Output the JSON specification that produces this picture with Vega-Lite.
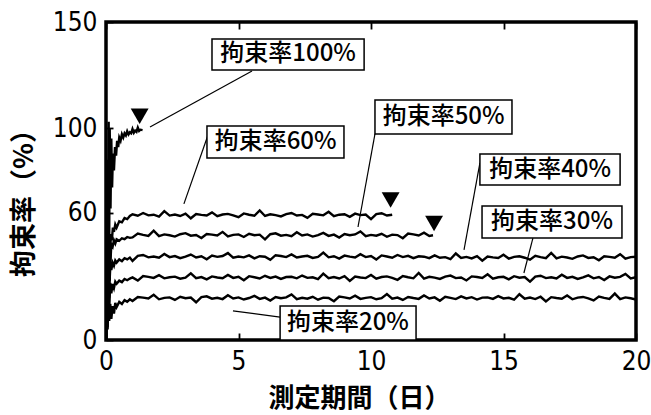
{
"$schema":"https://vega.github.io/schema/vega-lite/v6.json",
"width":530,"height":318,
"autosize":{"type":"none"},
"padding":{"left":106,"top":22,"right":15,"bottom":75},
"background":"white",
"config":{
"view":{"stroke":"black","strokeWidth":3.5},
"axis":{"domain":false,"grid":false,"tickColor":"black","labelColor":"black","titleColor":"black","labelFont":"Liberation Sans Narrow, DejaVu Sans Condensed, Liberation Sans","labelFontSize":26,"tickWidth":1.8,"tickSize":-7,"labelFlush":false,"labelOverlap":false}
},
"resolve":{"axis":{"x":"independent"}},
"layer":[
{
"data":{"values":[
{"s":"100","x":0,"y":0},{"s":"100","x":0.02,"y":50},{"s":"100","x":0.04,"y":10},{"s":"100","x":0.06,"y":85},{"s":"100","x":0.08,"y":25},{"s":"100","x":0.1,"y":103},{"s":"100","x":0.12,"y":45},{"s":"100","x":0.14,"y":100},{"s":"100","x":0.17,"y":62},{"s":"100","x":0.2,"y":95},{"s":"100","x":0.23,"y":72},{"s":"100","x":0.26,"y":88},{"s":"100","x":0.3,"y":80},{"s":"100","x":0.34,"y":91},{"s":"100","x":0.38,"y":87},{"s":"100","x":0.42,"y":94},{"s":"100","x":0.46,"y":91},{"s":"100","x":0.5,"y":95.5},{"s":"100","x":0.55,"y":94},{"s":"100","x":0.6,"y":97},{"s":"100","x":0.65,"y":95.5},{"s":"100","x":0.7,"y":97.5},{"s":"100","x":0.75,"y":96.5},{"s":"100","x":0.8,"y":98.5},{"s":"100","x":0.85,"y":97},{"s":"100","x":0.9,"y":98},{"s":"100","x":0.95,"y":97.5},{"s":"100","x":1.0,"y":99.5},{"s":"100","x":1.05,"y":97.8},{"s":"100","x":1.1,"y":98.8},{"s":"100","x":1.15,"y":98.2},{"s":"100","x":1.2,"y":100.2},{"s":"100","x":1.25,"y":98.6},{"s":"100","x":1.3,"y":99.2},{"s":"100","x":1.38,"y":99.0},

{"s":"60","x":0,"y":0},{"s":"60","x":0.03,"y":38},{"s":"60","x":0.06,"y":10},{"s":"60","x":0.1,"y":52},{"s":"60","x":0.14,"y":28},{"s":"60","x":0.18,"y":50},{"s":"60","x":0.22,"y":47},{"s":"60","x":0.26,"y":53},{"s":"60","x":0.3,"y":51},{"s":"60","x":0.35,"y":54.5},{"s":"60","x":0.4,"y":53},{"s":"60","x":0.5,"y":56},{"s":"60","x":0.6,"y":55.5},{"s":"60","x":0.7,"y":57.5},{"s":"60","x":0.8,"y":57},{"s":"60","x":0.9,"y":58.5},
{"s":"60","x":1.0,"y":59.3},{"s":"60","x":1.2,"y":58.6},{"s":"60","x":1.4,"y":59.9},{"s":"60","x":1.6,"y":58.8},{"s":"60","x":1.8,"y":59.1},{"s":"60","x":2.0,"y":58.2},{"s":"60","x":2.2,"y":60.8},{"s":"60","x":2.4,"y":58.7},{"s":"60","x":2.6,"y":59.2},{"s":"60","x":2.8,"y":58.5},{"s":"60","x":3.0,"y":59.6},{"s":"60","x":3.2,"y":57.4},{"s":"60","x":3.4,"y":59.4},{"s":"60","x":3.6,"y":59.0},{"s":"60","x":3.8,"y":58.7},{"s":"60","x":4.0,"y":60.2},{"s":"60","x":4.2,"y":58.4},{"s":"60","x":4.4,"y":59.2},{"s":"60","x":4.6,"y":59.5},{"s":"60","x":4.8,"y":58.8},{"s":"60","x":5.0,"y":57.9},{"s":"60","x":5.2,"y":59.7},{"s":"60","x":5.4,"y":59.1},{"s":"60","x":5.6,"y":58.6},{"s":"60","x":5.8,"y":61.1},{"s":"60","x":6.0,"y":58.5},{"s":"60","x":6.2,"y":59.3},{"s":"60","x":6.4,"y":58.9},{"s":"60","x":6.6,"y":58.3},{"s":"60","x":6.8,"y":59.4},{"s":"60","x":7.0,"y":59.9},{"s":"60","x":7.2,"y":58.7},{"s":"60","x":7.4,"y":59.0},{"s":"60","x":7.6,"y":57.6},{"s":"60","x":7.8,"y":59.5},{"s":"60","x":8.0,"y":59.2},{"s":"60","x":8.2,"y":58.8},{"s":"60","x":8.4,"y":60.5},{"s":"60","x":8.6,"y":58.4},{"s":"60","x":8.8,"y":59.1},{"s":"60","x":9.0,"y":59.3},{"s":"60","x":9.2,"y":58.1},{"s":"60","x":9.4,"y":59.6},{"s":"60","x":9.6,"y":58.9},{"s":"60","x":9.8,"y":59.2},{"s":"60","x":10.0,"y":57.0},{"s":"60","x":10.2,"y":59.4},{"s":"60","x":10.4,"y":59.8},{"s":"60","x":10.6,"y":58.7},{"s":"60","x":10.8,"y":59.1},

{"s":"50","x":0,"y":0},{"s":"50","x":0.03,"y":30},{"s":"50","x":0.06,"y":46},{"s":"50","x":0.09,"y":18},{"s":"50","x":0.12,"y":47},{"s":"50","x":0.16,"y":35},{"s":"50","x":0.2,"y":45},{"s":"50","x":0.25,"y":44},{"s":"50","x":0.3,"y":47},{"s":"50","x":0.35,"y":45.5},{"s":"50","x":0.4,"y":47.5},{"s":"50","x":0.5,"y":46.8},{"s":"50","x":0.6,"y":48},{"s":"50","x":0.7,"y":47.6},{"s":"50","x":0.8,"y":48.6},{"s":"50","x":0.9,"y":48.2},
{"s":"50","x":1.0,"y":48.4},{"s":"50","x":1.2,"y":50.2},{"s":"50","x":1.4,"y":49.6},{"s":"50","x":1.6,"y":49.1},{"s":"50","x":1.8,"y":51.6},{"s":"50","x":2.0,"y":49.0},{"s":"50","x":2.2,"y":49.8},{"s":"50","x":2.4,"y":49.4},{"s":"50","x":2.6,"y":48.8},{"s":"50","x":2.8,"y":49.9},{"s":"50","x":3.0,"y":50.4},{"s":"50","x":3.2,"y":49.2},{"s":"50","x":3.4,"y":49.5},{"s":"50","x":3.6,"y":48.1},{"s":"50","x":3.8,"y":50.0},{"s":"50","x":4.0,"y":49.7},{"s":"50","x":4.2,"y":49.3},{"s":"50","x":4.4,"y":51.0},{"s":"50","x":4.6,"y":48.9},{"s":"50","x":4.8,"y":49.6},{"s":"50","x":5.0,"y":49.8},{"s":"50","x":5.2,"y":48.6},{"s":"50","x":5.4,"y":50.1},{"s":"50","x":5.6,"y":49.4},{"s":"50","x":5.8,"y":49.7},{"s":"50","x":6.0,"y":47.5},{"s":"50","x":6.2,"y":49.9},{"s":"50","x":6.4,"y":50.3},{"s":"50","x":6.6,"y":49.2},{"s":"50","x":6.8,"y":49.6},{"s":"50","x":7.0,"y":49.0},{"s":"50","x":7.2,"y":50.8},{"s":"50","x":7.4,"y":49.3},{"s":"50","x":7.6,"y":49.8},{"s":"50","x":7.8,"y":48.8},{"s":"50","x":8.0,"y":49.5},{"s":"50","x":8.2,"y":50.5},{"s":"50","x":8.4,"y":49.1},{"s":"50","x":8.6,"y":49.7},{"s":"50","x":8.8,"y":48.3},{"s":"50","x":9.0,"y":50.0},{"s":"50","x":9.2,"y":49.4},{"s":"50","x":9.4,"y":49.8},{"s":"50","x":9.6,"y":51.2},{"s":"50","x":9.8,"y":49.0},{"s":"50","x":10.0,"y":49.6},{"s":"50","x":10.2,"y":49.2},{"s":"50","x":10.4,"y":50.1},{"s":"50","x":10.6,"y":48.7},{"s":"50","x":10.8,"y":49.7},{"s":"50","x":11.0,"y":49.5},{"s":"50","x":11.2,"y":48.0},{"s":"50","x":11.4,"y":50.2},{"s":"50","x":11.6,"y":49.8},{"s":"50","x":11.8,"y":49.3},{"s":"50","x":12.0,"y":50.6},{"s":"50","x":12.2,"y":49.1},{"s":"50","x":12.34,"y":49.4},

{"s":"40","x":0,"y":0},{"s":"40","x":0.03,"y":25},{"s":"40","x":0.06,"y":8},{"s":"40","x":0.09,"y":38},{"s":"40","x":0.12,"y":20},{"s":"40","x":0.16,"y":37},{"s":"40","x":0.2,"y":33},{"s":"40","x":0.25,"y":36.5},{"s":"40","x":0.3,"y":35},{"s":"40","x":0.35,"y":37.5},{"s":"40","x":0.4,"y":36.5},{"s":"40","x":0.5,"y":38},{"s":"40","x":0.6,"y":37.2},{"s":"40","x":0.7,"y":38.6},{"s":"40","x":0.8,"y":38},{"s":"40","x":0.9,"y":38.9},
{"s":"40","x":1.0,"y":37.3},{"s":"40","x":1.2,"y":39.7},{"s":"40","x":1.4,"y":40.1},{"s":"40","x":1.6,"y":39.0},{"s":"40","x":1.8,"y":39.4},{"s":"40","x":2.0,"y":38.8},{"s":"40","x":2.2,"y":40.6},{"s":"40","x":2.4,"y":39.1},{"s":"40","x":2.6,"y":39.6},{"s":"40","x":2.8,"y":38.6},{"s":"40","x":3.0,"y":39.3},{"s":"40","x":3.2,"y":40.3},{"s":"40","x":3.4,"y":38.9},{"s":"40","x":3.6,"y":39.5},{"s":"40","x":3.8,"y":38.1},{"s":"40","x":4.0,"y":39.8},{"s":"40","x":4.2,"y":39.2},{"s":"40","x":4.4,"y":39.6},{"s":"40","x":4.6,"y":41.0},{"s":"40","x":4.8,"y":38.8},{"s":"40","x":5.0,"y":39.4},{"s":"40","x":5.2,"y":39.0},{"s":"40","x":5.4,"y":39.9},{"s":"40","x":5.6,"y":38.5},{"s":"40","x":5.8,"y":39.5},{"s":"40","x":6.0,"y":39.3},{"s":"40","x":6.2,"y":37.8},{"s":"40","x":6.4,"y":40.0},{"s":"40","x":6.6,"y":39.6},{"s":"40","x":6.8,"y":39.1},{"s":"40","x":7.0,"y":40.4},{"s":"40","x":7.2,"y":38.9},{"s":"40","x":7.4,"y":39.4},{"s":"40","x":7.6,"y":39.7},{"s":"40","x":7.8,"y":38.7},{"s":"40","x":8.0,"y":39.2},{"s":"40","x":8.2,"y":41.2},{"s":"40","x":8.4,"y":39.0},{"s":"40","x":8.6,"y":39.5},{"s":"40","x":8.8,"y":38.4},{"s":"40","x":9.0,"y":39.8},{"s":"40","x":9.2,"y":39.3},{"s":"40","x":9.4,"y":38.9},{"s":"40","x":9.6,"y":40.5},{"s":"40","x":9.8,"y":39.1},{"s":"40","x":10.0,"y":39.6},{"s":"40","x":10.2,"y":38.0},{"s":"40","x":10.4,"y":39.9},{"s":"40","x":10.6,"y":39.4},{"s":"40","x":10.8,"y":38.8},{"s":"40","x":11.0,"y":40.1},{"s":"40","x":11.2,"y":39.1},{"s":"40","x":11.4,"y":39.7},{"s":"40","x":11.6,"y":38.6},{"s":"40","x":11.8,"y":39.5},{"s":"40","x":12.0,"y":39.3},{"s":"40","x":12.2,"y":38.6},{"s":"40","x":12.4,"y":39.9},{"s":"40","x":12.6,"y":38.8},{"s":"40","x":12.8,"y":39.1},{"s":"40","x":13.0,"y":38.2},{"s":"40","x":13.2,"y":40.8},{"s":"40","x":13.4,"y":38.7},{"s":"40","x":13.6,"y":39.2},{"s":"40","x":13.8,"y":38.5},{"s":"40","x":14.0,"y":39.6},{"s":"40","x":14.2,"y":37.4},{"s":"40","x":14.4,"y":39.4},{"s":"40","x":14.6,"y":39.0},{"s":"40","x":14.8,"y":38.7},{"s":"40","x":15.0,"y":40.2},{"s":"40","x":15.2,"y":38.4},{"s":"40","x":15.4,"y":39.2},{"s":"40","x":15.6,"y":39.5},{"s":"40","x":15.8,"y":38.8},{"s":"40","x":16.0,"y":37.9},{"s":"40","x":16.2,"y":39.7},{"s":"40","x":16.4,"y":39.1},{"s":"40","x":16.6,"y":38.6},{"s":"40","x":16.8,"y":41.1},{"s":"40","x":17.0,"y":38.5},{"s":"40","x":17.2,"y":39.3},{"s":"40","x":17.4,"y":38.9},{"s":"40","x":17.6,"y":38.3},{"s":"40","x":17.8,"y":39.4},{"s":"40","x":18.0,"y":39.9},{"s":"40","x":18.2,"y":38.7},{"s":"40","x":18.4,"y":39.0},{"s":"40","x":18.6,"y":37.6},{"s":"40","x":18.8,"y":39.5},{"s":"40","x":19.0,"y":39.2},{"s":"40","x":19.2,"y":38.8},{"s":"40","x":19.4,"y":40.5},{"s":"40","x":19.6,"y":38.4},{"s":"40","x":19.8,"y":39.1},{"s":"40","x":20.0,"y":39.3},

{"s":"30","x":0,"y":0},{"s":"30","x":0.03,"y":20},{"s":"30","x":0.06,"y":6},{"s":"30","x":0.09,"y":28},{"s":"30","x":0.12,"y":14},{"s":"30","x":0.16,"y":27},{"s":"30","x":0.2,"y":22},{"s":"30","x":0.25,"y":26.5},{"s":"30","x":0.3,"y":24.5},{"s":"30","x":0.35,"y":27.5},{"s":"30","x":0.4,"y":26.5},{"s":"30","x":0.5,"y":28},{"s":"30","x":0.6,"y":27.3},{"s":"30","x":0.7,"y":28.8},{"s":"30","x":0.8,"y":28.2},{"s":"30","x":0.9,"y":29},
{"s":"30","x":1.0,"y":29.5},{"s":"30","x":1.2,"y":28.0},{"s":"30","x":1.4,"y":30.2},{"s":"30","x":1.6,"y":29.8},{"s":"30","x":1.8,"y":29.3},{"s":"30","x":2.0,"y":30.6},{"s":"30","x":2.2,"y":29.1},{"s":"30","x":2.4,"y":29.6},{"s":"30","x":2.6,"y":29.9},{"s":"30","x":2.8,"y":28.9},{"s":"30","x":3.0,"y":29.4},{"s":"30","x":3.2,"y":31.4},{"s":"30","x":3.4,"y":29.2},{"s":"30","x":3.6,"y":29.7},{"s":"30","x":3.8,"y":28.6},{"s":"30","x":4.0,"y":30.0},{"s":"30","x":4.2,"y":29.5},{"s":"30","x":4.4,"y":29.1},{"s":"30","x":4.6,"y":30.7},{"s":"30","x":4.8,"y":29.3},{"s":"30","x":5.0,"y":29.8},{"s":"30","x":5.2,"y":28.2},{"s":"30","x":5.4,"y":30.1},{"s":"30","x":5.6,"y":29.6},{"s":"30","x":5.8,"y":29.0},{"s":"30","x":6.0,"y":30.3},{"s":"30","x":6.2,"y":29.3},{"s":"30","x":6.4,"y":29.9},{"s":"30","x":6.6,"y":28.8},{"s":"30","x":6.8,"y":29.7},{"s":"30","x":7.0,"y":29.8},{"s":"30","x":7.2,"y":29.1},{"s":"30","x":7.4,"y":30.4},{"s":"30","x":7.6,"y":29.3},{"s":"30","x":7.8,"y":29.6},{"s":"30","x":8.0,"y":28.7},{"s":"30","x":8.2,"y":31.3},{"s":"30","x":8.4,"y":29.2},{"s":"30","x":8.6,"y":29.7},{"s":"30","x":8.8,"y":29.0},{"s":"30","x":9.0,"y":30.1},{"s":"30","x":9.2,"y":27.9},{"s":"30","x":9.4,"y":29.9},{"s":"30","x":9.6,"y":29.5},{"s":"30","x":9.8,"y":29.2},{"s":"30","x":10.0,"y":30.7},{"s":"30","x":10.2,"y":28.9},{"s":"30","x":10.4,"y":29.7},{"s":"30","x":10.6,"y":30.0},{"s":"30","x":10.8,"y":29.3},{"s":"30","x":11.0,"y":28.4},{"s":"30","x":11.2,"y":30.2},{"s":"30","x":11.4,"y":29.6},{"s":"30","x":11.6,"y":29.1},{"s":"30","x":11.8,"y":31.6},{"s":"30","x":12.0,"y":29.0},{"s":"30","x":12.2,"y":29.8},{"s":"30","x":12.4,"y":29.4},{"s":"30","x":12.6,"y":28.8},{"s":"30","x":12.8,"y":29.9},{"s":"30","x":13.0,"y":30.4},{"s":"30","x":13.2,"y":29.2},{"s":"30","x":13.4,"y":29.5},{"s":"30","x":13.6,"y":28.1},{"s":"30","x":13.8,"y":30.0},{"s":"30","x":14.0,"y":29.7},{"s":"30","x":14.2,"y":29.3},{"s":"30","x":14.4,"y":31.0},{"s":"30","x":14.6,"y":28.9},{"s":"30","x":14.8,"y":29.6},{"s":"30","x":15.0,"y":29.8},{"s":"30","x":15.2,"y":28.6},{"s":"30","x":15.4,"y":30.1},{"s":"30","x":15.6,"y":29.4},{"s":"30","x":15.8,"y":29.7},{"s":"30","x":16.0,"y":27.5},{"s":"30","x":16.2,"y":29.9},{"s":"30","x":16.4,"y":30.3},{"s":"30","x":16.6,"y":29.2},{"s":"30","x":16.8,"y":29.6},{"s":"30","x":17.0,"y":29.0},{"s":"30","x":17.2,"y":30.8},{"s":"30","x":17.4,"y":29.3},{"s":"30","x":17.6,"y":29.8},{"s":"30","x":17.8,"y":28.8},{"s":"30","x":18.0,"y":29.5},{"s":"30","x":18.2,"y":30.5},{"s":"30","x":18.4,"y":29.1},{"s":"30","x":18.6,"y":29.7},{"s":"30","x":18.8,"y":28.3},{"s":"30","x":19.0,"y":30.0},{"s":"30","x":19.2,"y":29.4},{"s":"30","x":19.4,"y":29.8},{"s":"30","x":19.6,"y":31.2},{"s":"30","x":19.8,"y":29.0},{"s":"30","x":20.0,"y":29.6},

{"s":"20","x":0,"y":0},{"s":"20","x":0.03,"y":15},{"s":"20","x":0.06,"y":5},{"s":"20","x":0.09,"y":20},{"s":"20","x":0.12,"y":9},{"s":"20","x":0.16,"y":17},{"s":"20","x":0.2,"y":10},{"s":"20","x":0.25,"y":16},{"s":"20","x":0.3,"y":12.5},{"s":"20","x":0.35,"y":17.5},{"s":"20","x":0.4,"y":15.5},{"s":"20","x":0.5,"y":18},{"s":"20","x":0.6,"y":17},{"s":"20","x":0.7,"y":18.8},{"s":"20","x":0.8,"y":18},{"s":"20","x":0.9,"y":19.2},
{"s":"20","x":1.0,"y":18.4},{"s":"20","x":1.2,"y":20.3},{"s":"20","x":1.4,"y":20.0},{"s":"20","x":1.6,"y":19.6},{"s":"20","x":1.8,"y":21.3},{"s":"20","x":2.0,"y":19.2},{"s":"20","x":2.2,"y":19.9},{"s":"20","x":2.4,"y":20.1},{"s":"20","x":2.6,"y":18.9},{"s":"20","x":2.8,"y":20.4},{"s":"20","x":3.0,"y":19.7},{"s":"20","x":3.2,"y":20.0},{"s":"20","x":3.4,"y":17.8},{"s":"20","x":3.6,"y":20.2},{"s":"20","x":3.8,"y":20.6},{"s":"20","x":4.0,"y":19.5},{"s":"20","x":4.2,"y":19.9},{"s":"20","x":4.4,"y":19.3},{"s":"20","x":4.6,"y":21.1},{"s":"20","x":4.8,"y":19.6},{"s":"20","x":5.0,"y":20.1},{"s":"20","x":5.2,"y":19.1},{"s":"20","x":5.4,"y":19.8},{"s":"20","x":5.6,"y":20.8},{"s":"20","x":5.8,"y":19.4},{"s":"20","x":6.0,"y":20.0},{"s":"20","x":6.2,"y":18.6},{"s":"20","x":6.4,"y":20.3},{"s":"20","x":6.6,"y":19.7},{"s":"20","x":6.8,"y":20.1},{"s":"20","x":7.0,"y":21.5},{"s":"20","x":7.2,"y":19.3},{"s":"20","x":7.4,"y":19.9},{"s":"20","x":7.6,"y":19.5},{"s":"20","x":7.8,"y":20.4},{"s":"20","x":8.0,"y":19.0},{"s":"20","x":8.2,"y":20.0},{"s":"20","x":8.4,"y":19.8},{"s":"20","x":8.6,"y":18.3},{"s":"20","x":8.8,"y":20.5},{"s":"20","x":9.0,"y":20.1},{"s":"20","x":9.2,"y":19.6},{"s":"20","x":9.4,"y":20.9},{"s":"20","x":9.6,"y":19.4},{"s":"20","x":9.8,"y":19.9},{"s":"20","x":10.0,"y":20.2},{"s":"20","x":10.2,"y":19.2},{"s":"20","x":10.4,"y":19.7},{"s":"20","x":10.6,"y":21.7},{"s":"20","x":10.8,"y":19.5},{"s":"20","x":11.0,"y":20.0},{"s":"20","x":11.2,"y":18.9},{"s":"20","x":11.4,"y":20.3},{"s":"20","x":11.6,"y":19.8},{"s":"20","x":11.8,"y":19.4},{"s":"20","x":12.0,"y":21.0},{"s":"20","x":12.2,"y":19.6},{"s":"20","x":12.4,"y":20.1},{"s":"20","x":12.6,"y":18.5},{"s":"20","x":12.8,"y":20.4},{"s":"20","x":13.0,"y":19.9},{"s":"20","x":13.2,"y":19.3},{"s":"20","x":13.4,"y":20.6},{"s":"20","x":13.6,"y":19.6},{"s":"20","x":13.8,"y":20.2},{"s":"20","x":14.0,"y":19.1},{"s":"20","x":14.2,"y":20.0},{"s":"20","x":14.4,"y":20.1},{"s":"20","x":14.6,"y":19.4},{"s":"20","x":14.8,"y":20.7},{"s":"20","x":15.0,"y":19.6},{"s":"20","x":15.2,"y":19.9},{"s":"20","x":15.4,"y":19.0},{"s":"20","x":15.6,"y":21.6},{"s":"20","x":15.8,"y":19.5},{"s":"20","x":16.0,"y":20.0},{"s":"20","x":16.2,"y":19.3},{"s":"20","x":16.4,"y":20.4},{"s":"20","x":16.6,"y":18.2},{"s":"20","x":16.8,"y":20.2},{"s":"20","x":17.0,"y":19.8},{"s":"20","x":17.2,"y":19.5},{"s":"20","x":17.4,"y":21.0},{"s":"20","x":17.6,"y":19.2},{"s":"20","x":17.8,"y":20.0},{"s":"20","x":18.0,"y":20.3},{"s":"20","x":18.2,"y":19.6},{"s":"20","x":18.4,"y":18.7},{"s":"20","x":18.6,"y":20.5},{"s":"20","x":18.8,"y":19.9},{"s":"20","x":19.0,"y":19.4},{"s":"20","x":19.2,"y":21.9},{"s":"20","x":19.4,"y":19.3},{"s":"20","x":19.6,"y":20.1},{"s":"20","x":19.8,"y":19.7},{"s":"20","x":20.0,"y":19.1}
]},
"mark":{"type":"line","color":"black","strokeWidth":2.4,"clip":true},
"encoding":{
"x":{"field":"x","type":"quantitative","scale":{"domain":[0,20],"nice":false,"zero":false},
"axis":{"orient":"bottom","values":[0,5,10,15,20],"labelPadding":15,"title":"測定期間（日）","titleFont":"Noto Sans CJK JP","titleFontWeight":"bold","titleFontSize":26,"titleX":253,"titlePadding":11}},
"y":{"field":"y","type":"quantitative","scale":{"domain":[0,150],"nice":false},
"axis":{"values":[0,60,100,150],"labelPadding":16,"title":"拘束率（%）","titleFont":"Noto Sans CJK JP","titleFontWeight":"bold","titleFontSize":27,"titleY":174,"titlePadding":14}},
"detail":{"field":"s"}
}
},
{
"data":{"values":[{"x":1.27,"y":105.5},{"x":10.74,"y":66},{"x":12.38,"y":55}]},
"mark":{"type":"point","shape":"triangle-down","filled":true,"color":"black","size":320,"opacity":1},
"encoding":{
"x":{"field":"x","type":"quantitative","axis":{"orient":"top","values":[0,5,10,15,20],"labels":false,"title":null}},
"y":{"field":"y","type":"quantitative","title":"拘束率（%）"}
}
},
{
"data":{"values":[
{"x":5.51,"y":126.9,"x2":1.66,"y2":100.5},
{"x":3.85,"y":96.7,"x2":2.94,"y2":64.2},
{"x":10.15,"y":97.2,"x2":9.51,"y2":53.3},
{"x":14.11,"y":83.5,"x2":13.51,"y2":42.5},
{"x":16.11,"y":48.1,"x2":15.77,"y2":31.6},
{"x":6.57,"y":10.8,"x2":4.79,"y2":13.7}
]},
"mark":{"type":"rule","color":"black","strokeWidth":1.2},
"encoding":{
"x":{"field":"x","type":"quantitative","axis":null},
"x2":{"field":"x2"},
"y":{"field":"y","type":"quantitative","title":"拘束率（%）"},
"y2":{"field":"y2"}
}
},
{
"data":{"values":[
{"t":"拘束率100%","x1":4.0,"x2":9.74,"y1":127.4,"y2":142.0,"tx":6.87,"ty":134.7},
{"t":"拘束率60%","x1":3.81,"x2":8.98,"y1":85.8,"y2":100.9,"tx":6.40,"ty":93.4},
{"t":"拘束率50%","x1":10.15,"x2":15.32,"y1":97.2,"y2":113.2,"tx":12.74,"ty":105.2},
{"t":"拘束率40%","x1":14.11,"x2":19.40,"y1":73.1,"y2":87.7,"tx":16.76,"ty":80.4},
{"t":"拘束率30%","x1":14.19,"x2":19.47,"y1":48.1,"y2":63.2,"tx":16.83,"ty":55.7},
{"t":"拘束率20%","x1":6.57,"x2":11.70,"y1":0,"y2":16.0,"tx":9.13,"ty":8.0}
]},
"layer":[
{"mark":{"type":"rect","fill":"white","stroke":"black","strokeWidth":1.5},
"encoding":{
"x":{"field":"x1","type":"quantitative","axis":null},
"x2":{"field":"x2"},
"y":{"field":"y1","type":"quantitative","title":"拘束率（%）"},
"y2":{"field":"y2"}
}},
{"mark":{"type":"text","font":"Noto Sans CJK JP","fontSize":24,"fontWeight":500,"color":"black","align":"center","baseline":"middle"},
"encoding":{
"x":{"field":"tx","type":"quantitative","axis":null},
"y":{"field":"ty","type":"quantitative","title":"拘束率（%）"},
"text":{"field":"t"}
}}
]
}
]
}
